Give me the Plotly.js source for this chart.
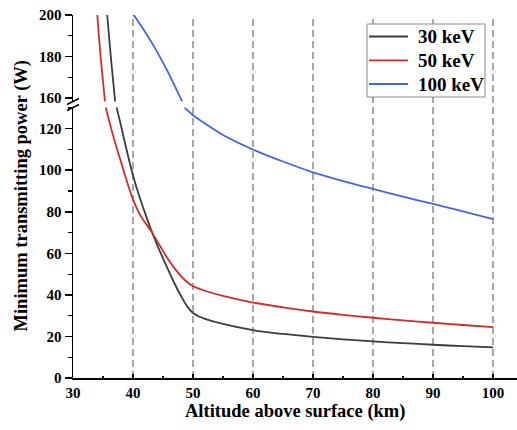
<!DOCTYPE html>
<html>
<head>
<meta charset="utf-8">
<script src="https://cdn.plot.ly/plotly-3.0.1.min.js"></script>
<style>html,body{margin:0;padding:0;background:#fff;}#chart{width:517px;height:430px;}</style>
</head>
<body>
<div id="chart"></div>
<script>
// ---- data (upper panel: 158-200 W, lower panel: 0-130 W) ----
const seriesNames = ['30 keV', '50 keV', '100 keV'];
const seriesColors = ['#3c3c3c', '#d42a2a', '#4464e4'];

const alt30Upper = [35.55, 35.7, 36.0, 36.3, 36.65, 37.0, 37.1];
const pow30Upper = [205, 200, 190, 180, 169.5, 159, 156];
const alt30Lower = [37.2, 37.3, 38, 39, 40, 41, 42, 43, 44, 45, 46, 47, 48, 49, 50, 51, 52, 55, 60, 65, 70, 75, 80, 85, 90, 95, 100];
const pow30Lower = [133, 130, 121.5, 109, 97.5, 88, 79.5, 71.5, 64.2, 57.6, 51.2, 45, 39.5, 34.6, 31.3, 29.6, 28.5, 26, 23, 21.2, 19.8, 18.6, 17.6, 16.8, 16, 15.3, 14.7];

const alt50Upper = [33.95, 34.05, 34.6, 35.3, 35.35];
const pow50Upper = [205, 200, 180, 159, 156];
const alt50Lower = [35.45, 35.5, 36, 37, 38, 39, 40, 41, 42, 43, 44, 45, 46, 47, 48, 49, 50, 52, 55, 60, 65, 70, 75, 80, 85, 90, 95, 100];
const pow50Lower = [133, 130, 124, 113.5, 104, 94.5, 86, 79.5, 74.8, 70.8, 66, 61.2, 56.5, 52.5, 49, 46.2, 44.2, 42, 39.5, 36.3, 34, 32, 30.4, 29, 27.7, 26.6, 25.5, 24.5];

const alt100Upper = [39.9, 40.1, 41, 42, 43, 44, 45, 46, 47, 48, 48.3];
const pow100Upper = [200.4, 200, 196.3, 192.0, 187.3, 182.4, 177.1, 171.6, 165.7, 159.6, 157.7];
const alt100Lower = [48.6, 48.7, 49.3, 50, 51, 52, 55, 60, 65, 70, 75, 80, 85, 90, 95, 100];
const pow100Lower = [131, 130, 128.3, 126.5, 124.4, 122.5, 117, 110, 104.2, 99, 94.8, 91, 87.3, 83.8, 80.2, 76.5];

const xTicks = [30, 40, 50, 60, 70, 80, 90, 100];
const yTicksLower = [0, 20, 40, 60, 80, 100, 120];
const yTicksUpper = [160, 180, 200];
const gridX = [40, 50, 60, 70, 80, 90, 100];
const xTitle = 'Altitude above surface (km)';
const yTitle = 'Minimum transmitting power (W)';

// ---- layout constants ----
const serif = 'Liberation Serif, Times New Roman, serif';
const lowerRange = [0, 130.2];
const upperRange = [158.4, 200];
const lowerDomain = [0, 0.7452];
const upperDomain = [0.7617, 1];
const plotW = 444, plotH = 363, plotL = 73, plotT = 15;
const px = v => (v - plotL) / plotW;          // pixel x -> paper x
const py = v => (plotT + plotH - v) / plotH;  // pixel y -> paper y
const bold = arr => arr.map(v => '<b>' + v + '</b>');

const uppers = [[alt30Upper, pow30Upper], [alt50Upper, pow50Upper], [alt100Upper, pow100Upper]];
const lowers = [[alt30Lower, pow30Lower], [alt50Lower, pow50Lower], [alt100Lower, pow100Lower]];
const traces = [];
for (let i = 0; i < 3; i++) {
  traces.push({
    x: lowers[i][0], y: lowers[i][1], type: 'scatter', mode: 'lines',
    name: seriesNames[i], line: {color: seriesColors[i], width: 1.8, shape: 'spline', smoothing: 0.8},
    xaxis: 'x', yaxis: 'y', showlegend: false
  });
  traces.push({
    x: uppers[i][0], y: uppers[i][1], type: 'scatter', mode: 'lines',
    name: seriesNames[i], line: {color: seriesColors[i], width: 1.8, shape: 'spline', smoothing: 0.8},
    xaxis: 'x', yaxis: 'y2', showlegend: false
  });
}

const axisFont = {family: serif, size: 15, color: '#000', weight: 'bold'};
const legendFont = {family: serif, size: 19, color: '#000'};

const shapes = gridX.map(v => ({
  type: 'line', xref: 'x', yref: 'paper', x0: v, x1: v, y0: 0, y1: 1,
  line: {color: '#8c8c8c', width: 1.5, dash: '7px,4px'}, layer: 'below'
}));
// axis break marks
const dx = 6 / plotW, dy = 3 / plotH;
[upperDomain[0], lowerDomain[1]].forEach(yc => {
  shapes.push({
    type: 'line', xref: 'paper', yref: 'paper',
    x0: -dx, x1: dx, y0: yc - dy, y1: yc + dy,
    line: {color: '#000', width: 1.5}
  });
});
// legend box
shapes.push({
  type: 'rect', xref: 'paper', yref: 'paper',
  x0: px(367), x1: px(485), y0: py(97), y1: py(24),
  fillcolor: '#fff', line: {color: '#8a8a8a', width: 1}
});
const legendRows = [36.5, 60.3, 84];
const annotations = [];
for (let i = 0; i < 3; i++) {
  shapes.push({
    type: 'line', xref: 'paper', yref: 'paper',
    x0: px(369), x1: px(408), y0: py(legendRows[i]), y1: py(legendRows[i]),
    line: {color: seriesColors[i], width: 1.8}
  });
  annotations.push({
    text: '<b>' + seriesNames[i] + '</b>', xref: 'paper', yref: 'paper', x: px(416), y: py(legendRows[i]),
    xanchor: 'left', yanchor: 'middle', showarrow: false, font: legendFont
  });
}
annotations.push(
  {text: '<b>' + xTitle + '</b>', xref: 'paper', yref: 'paper', x: 0.5, y: 0, xanchor: 'center', yanchor: 'middle',
   yshift: -33, showarrow: false, font: {family: serif, size: 18.5, color: '#000'}},
  {text: '<b>' + yTitle + '</b>', xref: 'paper', yref: 'paper', x: 0, y: 0.5, xanchor: 'center', yanchor: 'middle',
   xshift: -52, textangle: -90, showarrow: false, font: {family: serif, size: 18.5, color: '#000'}}
);

const yCommon = {
  ticks: 'outside', ticklen: 7, tickwidth: 1.5, tickcolor: '#000',
  minor: {dtick: 10, tick0: 0, ticks: 'outside', ticklen: 4, tickwidth: 1.2, tickcolor: '#000', showgrid: false},
  showline: true, linecolor: '#000', linewidth: 1.5,
  showgrid: false, zeroline: false, tickfont: axisFont, anchor: 'x'
};

const layout = {
  width: 517, height: 430,
  margin: {l: plotL, r: 0, t: plotT, b: 52},
  paper_bgcolor: '#fff', plot_bgcolor: 'rgba(0,0,0,0)',
  showlegend: false,
  xaxis: {
    range: [30, 104], domain: [0, 1], anchor: 'y',
    tickvals: xTicks, ticktext: bold(xTicks), ticks: 'inside', ticklen: 4, tickwidth: 1.5, tickcolor: '#000',
    minor: {dtick: 5, tick0: 30, ticks: 'inside', ticklen: 2.5, tickwidth: 1.2, tickcolor: '#000', showgrid: false},
    showline: true, linecolor: '#000', linewidth: 1.5,
    showgrid: false, zeroline: false, tickfont: axisFont
  },
  yaxis: Object.assign({}, yCommon, {range: lowerRange, domain: lowerDomain, tickvals: yTicksLower, ticktext: bold(yTicksLower)}),
  yaxis2: Object.assign({}, yCommon, {range: upperRange, domain: upperDomain, tickvals: yTicksUpper, ticktext: bold(yTicksUpper)}),
  shapes: shapes,
  annotations: annotations
};

Plotly.newPlot('chart', traces, layout, {staticPlot: true, displayModeBar: false});
</script>
</body>
</html>
